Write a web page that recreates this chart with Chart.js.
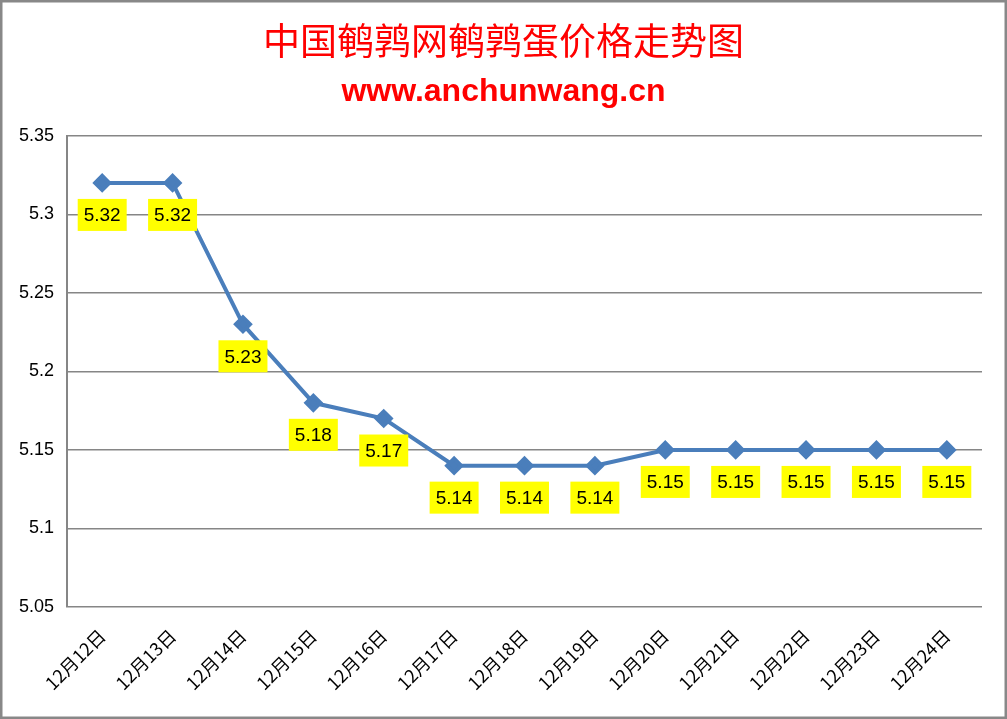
<!DOCTYPE html>
<html>
<head>
<meta charset="utf-8">
<script src="https://cdn.jsdelivr.net/npm/chart.js@4/dist/chart.umd.min.js"></script>
<style>
  html, body { margin: 0; padding: 0; background: #fff; }
  #wrap { width: 1007px; height: 719px; }
</style>
</head>
<body>
<div id="wrap"><canvas id="chart" width="1007" height="719"></canvas></div>
<script>
// Chart data
const dates = ['12月12日', '12月13日', '12月14日', '12月15日', '12月16日', '12月17日', '12月18日',
               '12月19日', '12月20日', '12月21日', '12月22日', '12月23日', '12月24日'];
const prices = [5.32, 5.32, 5.23, 5.18, 5.17, 5.14, 5.14, 5.14, 5.15, 5.15, 5.15, 5.15, 5.15];
const yMin = 5.05;
const yMax = 5.35;
const yStep = 0.05;

const LINE_BLUE = '#4a7ebb';
const GRID_GRAY = '#868686';

// white background + grey outer frame
const framePlugin = {
    id: 'frame',
    beforeDraw(chart) {
        const ctx = chart.ctx;
        ctx.save();
        ctx.fillStyle = '#ffffff';
        ctx.fillRect(0, 0, chart.width, chart.height);
        ctx.strokeStyle = '#888888';
        ctx.lineWidth = 2.5;
        ctx.strokeRect(1.25, 1.25, chart.width - 2.5, chart.height - 2.5);
        ctx.restore();
    }
};

// center title + subtitle on the whole canvas, not on the padded area
const centerTitlePlugin = {
    id: 'centerTitle',
    afterLayout(chart) {
        chart.boxes.forEach(b => {
            if (b.options && b.options.text !== undefined && b.position === 'top') {
                b.left = 25;
                b.right = chart.width - 25;
            }
        });
    }
};

// yellow value boxes under each point
const valueLabelPlugin = {
    id: 'valueLabels',
    afterDatasetsDraw(chart) {
        const ctx = chart.ctx;
        const meta = chart.getDatasetMeta(0);
        ctx.save();
        ctx.font = '19px "Liberation Sans", Arial, sans-serif';
        ctx.textAlign = 'center';
        ctx.textBaseline = 'middle';
        meta.data.forEach((pt, i) => {
            const text = prices[i].toFixed(2);
            const w = ctx.measureText(text).width + 12;
            const h = 32;
            const cx = pt.x;
            const cy = pt.y + 32;
            ctx.fillStyle = '#ffff00';
            ctx.fillRect(cx - w / 2, cy - h / 2, w, h);
            ctx.fillStyle = '#000000';
            ctx.fillText(text, cx, cy + 1);
        });
        ctx.restore();
    }
};

const ctx = document.getElementById('chart').getContext('2d');
const chart = new Chart(ctx, {
    type: 'line',
    data: {
        labels: dates,
        datasets: [{
            data: prices,
            borderColor: LINE_BLUE,
            backgroundColor: LINE_BLUE,
            borderWidth: 4,
            pointStyle: 'rectRot',
            pointRadius: 7,
            pointHoverRadius: 7,
            tension: 0
        }]
    },
    options: {
        responsive: false,
        animation: false,
        layout: {
            padding: { left: 0, right: 25, top: 0, bottom: 8 }
        },
        scales: {
            x: {
                offset: true,
                grid: { display: false },
                border: { display: false },
                ticks: {
                    color: '#000000',
                    font: { size: 18, family: '"Noto Sans CJK SC", "Liberation Sans", sans-serif' },
                    minRotation: 45,
                    maxRotation: 45,
                    padding: 10,
                    autoSkip: false
                },
                afterFit(scale) { scale.height = 104; }
            },
            y: {
                min: yMin,
                max: yMax,
                grid: {
                    color: GRID_GRAY,
                    lineWidth: 1.5,
                    drawTicks: false
                },
                border: { display: true, color: GRID_GRAY, width: 2 },
                ticks: {
                    stepSize: yStep,
                    color: '#000000',
                    padding: 13,
                    font: { size: 18, family: '"Liberation Sans", Arial, sans-serif' },
                    callback: v => String(+Number(v).toFixed(2))
                },
                afterFit(scale) { scale.width = 67; }
            }
        },
        plugins: {
            legend: { display: false },
            tooltip: { enabled: false },
            title: {
                display: true,
                text: '中国鹌鹑网鹌鹑蛋价格走势图',
                color: '#ff0000',
                font: { size: 37, weight: 'normal', family: '"Noto Sans CJK SC", sans-serif', lineHeight: 1.2 },
                padding: { top: 19, bottom: 10 }
            },
            subtitle: {
                display: true,
                text: 'www.anchunwang.cn',
                color: '#ff0000',
                font: { size: 32, weight: 'bold', family: '"Liberation Sans", Arial, sans-serif', lineHeight: 1.2 },
                padding: { top: 0, bottom: 24 }
            }
        }
    },
    plugins: [framePlugin, centerTitlePlugin, valueLabelPlugin]
});
</script>
</body>
</html>
